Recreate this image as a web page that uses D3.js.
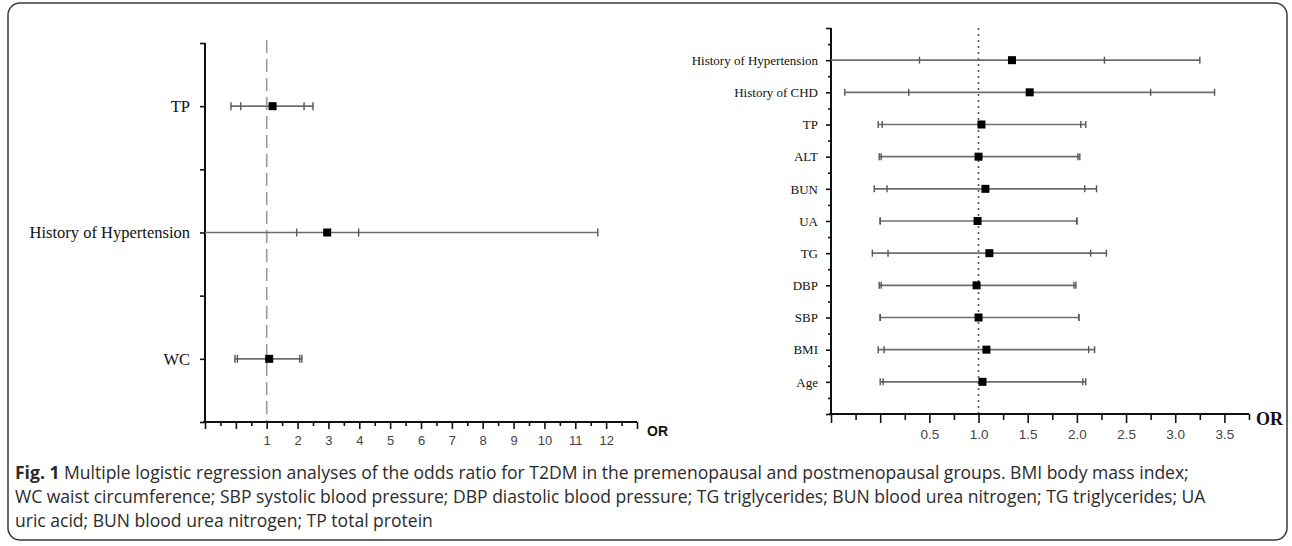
<!DOCTYPE html>
<html><head><meta charset="utf-8">
<script src="https://cdn.jsdelivr.net/npm/d3@7"></script>
<style>
html,body{margin:0;padding:0;background:#fff;}
svg{display:block;}
</style></head>
<body>
<svg id="c" width="1292" height="546"></svg>
<script>
// ---- Left panel (premenopausal) ----
const leftCategories = ["TP", "History of Hypertension", "WC"];
const leftPositions  = [1, 3, 5];
const leftOR         = [1.19, 2.96, 1.08];
const leftInnerLow   = [0.16, 1.97, 0.05];
const leftInnerHigh  = [2.21, 3.98, 2.07];
const leftOuterLow   = [-0.16, -1.5, -0.03];
const leftOuterHigh  = [2.50, 11.73, 2.14];
const leftTickLabels = [1,2,3,4,5,6,7,8,9,10,11,12];

// ---- Right panel (postmenopausal) ----
const rightCategories = ["History of Hypertension","History of CHD","TP","ALT","BUN","UA","TG","DBP","SBP","BMI","Age"];
const rightOR        = [1.34, 1.52, 1.03, 1.00, 1.07, 0.99, 1.11, 0.98, 1.00, 1.08, 1.04];
const rightInnerLow  = [0.40, 0.29, 0.02, 0.01, 0.07, 0.00, 0.08, 0.01, 0.00, 0.04, 0.03];
const rightInnerHigh = [2.28, 2.75, 2.04, 2.01, 2.08, 2.00, 2.14, 1.97, 2.02, 2.12, 2.06];
const rightOuterLow  = [-0.7, -0.36, -0.02, -0.01, -0.06, 0.00, -0.08, -0.01, 0.00, -0.02, 0.00];
const rightOuterHigh = [3.25, 3.40, 2.09, 2.03, 2.20, 2.00, 2.30, 1.99, 2.02, 2.18, 2.09];
const rightTickLabels = ["0.5","1.0","1.5","2.0","2.5","3.0","3.5"];

const captionLines = [
  {bold:"Fig. 1", rest:" Multiple logistic regression analyses of the odds ratio for T2DM in the premenopausal and postmenopausal groups. BMI body mass index;"},
  {bold:"", rest:"WC waist circumference; SBP systolic blood pressure; DBP diastolic blood pressure; TG triglycerides; BUN blood urea nitrogen; TG triglycerides; UA"},
  {bold:"", rest:"uric acid; BUN blood urea nitrogen; TP total protein"}
];
const captionLine1Width = 1175;

const svg = d3.select("#c");
const SERIF = "'Liberation Serif','Times New Roman',serif";
const SANS = "'Liberation Sans',Arial,sans-serif";

// frame
svg.append("rect").attr("x",8).attr("y",3).attr("width",1279).attr("height",537)
  .attr("rx",12).attr("fill","none").attr("stroke","#3a3a3a").attr("stroke-width",1.5);

function forest(cfg){
  const g = svg.append("g");
  const x = d3.scaleLinear().domain(cfg.xDomain).range(cfg.xRange);
  const y = d3.scaleLinear().domain(cfg.yDomain).range(cfg.yRange);
  const x0 = cfg.xRange[0], x1 = cfg.xRange[1];
  const yTop = cfg.yRange[0], yBot = cfg.yRange[1];

  g.append("line").attr("x1",x(1)).attr("x2",x(1)).attr("y1",cfg.refTop).attr("y2",yBot)
    .attr("stroke",cfg.refColor).attr("stroke-width",cfg.refWidth).attr("stroke-dasharray",cfg.refDash);

  const xa = d3.axisBottom(x).tickValues(cfg.xTicks).tickSize(cfg.xMajor).tickSizeOuter(0)
    .tickFormat(d => cfg.xLabel(d));
  const gx = g.append("g").attr("transform",`translate(0,${yBot})`).call(xa);
  gx.select(".domain").remove();
  gx.selectAll(".tick line").attr("stroke","#111").attr("stroke-width",1.6)
    .attr("y2", d => cfg.isMajorX(d) ? cfg.xMajor : cfg.xMinor);
  gx.selectAll(".tick text").attr("font-family",SANS).attr("font-size",cfg.xFont)
    .attr("fill","#444").attr("dy",null).attr("y",cfg.xLabelDy);

  const ya = d3.axisLeft(y).tickValues(cfg.yTicks).tickSize(cfg.yMajor).tickSizeOuter(0)
    .tickFormat(d => cfg.yLabel(d));
  const gy = g.append("g").attr("transform",`translate(${x0},0)`).call(ya);
  gy.select(".domain").remove();
  gy.selectAll(".tick line").attr("stroke","#111").attr("stroke-width",1.6)
    .attr("x2", d => Number.isInteger(d) ? -cfg.yMajor : -cfg.yMinor);
  gy.selectAll(".tick text").attr("font-family",SERIF).attr("font-size",cfg.yFont)
    .attr("fill","#111").attr("x",-cfg.yLabelGap).attr("dy","0.33em");

  g.append("line").attr("x1",x0).attr("x2",x0).attr("y1",yTop).attr("y2",yBot+1)
    .attr("stroke","#111").attr("stroke-width",2);
  g.append("line").attr("x1",x0-2).attr("x2",x1).attr("y1",yBot).attr("y2",yBot)
    .attr("stroke","#111").attr("stroke-width",2);
  g.append("text").attr("x",cfg.orX).attr("y",yBot+cfg.orDy).text("OR")
    .attr("font-family",cfg.orFamily).attr("font-weight","bold").attr("font-size",cfg.orSize).attr("fill","#111");

  const d = cfg.pos.map((p,i)=>({p, or:cfg.or[i], il:cfg.il[i], ih:cfg.ih[i], ol:cfg.ol[i], oh:cfg.oh[i]}));
  const cx = v => x(Math.max(cfg.xDomain[0], Math.min(cfg.xDomain[1], v)));
  const rows = g.selectAll(".row").data(d).enter().append("g");
  rows.append("line").attr("x1",r=>cx(r.ol)).attr("x2",r=>cx(r.oh))
    .attr("y1",r=>y(r.p)).attr("y2",r=>y(r.p)).attr("stroke","#6e6e6e").attr("stroke-width",1.6);
  const capH = cfg.capH;
  ["ol","il","ih","oh"].forEach(k=>{
    rows.filter(r=>r[k] > cfg.xDomain[0]).append("line")
      .attr("x1",r=>x(r[k])).attr("x2",r=>x(r[k]))
      .attr("y1",r=>y(r.p)-capH/2).attr("y2",r=>y(r.p)+capH/2)
      .attr("stroke","#555").attr("stroke-width",1.4);
  });
  rows.append("rect").attr("x",r=>x(r.or)-4).attr("y",r=>y(r.p)-4)
    .attr("width",8).attr("height",8).attr("fill","#000");
}

const leftLabelMap = {}; leftPositions.forEach((p,i)=>leftLabelMap[p]=leftCategories[i]);
forest({
  xDomain:[-1,13], xRange:[205,637], yDomain:[0,6], yRange:[43,422],
  xTicks:d3.range(-1,13.001,0.5), isMajorX:d=>Number.isInteger(d), xMajor:7, xMinor:4,
  xLabel:d=> leftTickLabels.includes(d) ? String(d) : "", xFont:"13px", xLabelDy:23,
  yTicks:d3.range(0,6.001,1), yMajor:5, yMinor:3, yLabel:d=>leftLabelMap[d]||"", yFont:"16.5px", yLabelGap:15,
  refTop:40, refColor:"#9a9a9a", refWidth:1.6, refDash:"13,6",
  orX:647, orDy:14, orFamily:SANS, orSize:"14px",
  pos:leftPositions, or:leftOR, il:leftInnerLow, ih:leftInnerHigh, ol:leftOuterLow, oh:leftOuterHigh, capH:8
});

const rightPositions = rightCategories.map((c,i)=>i+1);
const rightLabelMap = {}; rightPositions.forEach((p,i)=>rightLabelMap[p]=rightCategories[i]);
const rightLabelValues = [0.5,1,1.5,2,2.5,3,3.5];
forest({
  xDomain:[-0.5,3.75], xRange:[831,1249], yDomain:[0,12], yRange:[28,414],
  xTicks:d3.range(-0.5,3.7501,0.25), isMajorX:d=>Math.abs(d*2-Math.round(d*2))<1e-9, xMajor:9, xMinor:6,
  xLabel:d=>{const i=rightLabelValues.findIndex(v=>Math.abs(v-d)<1e-9); return i>=0?rightTickLabels[i]:"";}, xFont:"13.5px", xLabelDy:25,
  yTicks:d3.range(0,12.001,0.5), yMajor:5, yMinor:3, yLabel:d=>rightLabelMap[d]||"", yFont:"13px", yLabelGap:13,
  refTop:28, refColor:"#555", refWidth:1.6, refDash:"2,4",
  orX:1256, orDy:11, orFamily:SERIF, orSize:"18px",
  pos:rightPositions, or:rightOR, il:rightInnerLow, ih:rightInnerHigh, ol:rightOuterLow, oh:rightOuterHigh, capH:7
});

// caption: font size chosen so that line 1 fills its measured width
const cap = svg.append("g").attr("font-family","'Open Sans','Noto Sans',sans-serif").attr("font-size","15px").attr("fill","#2b2b2b");
const texts = captionLines.map((ln,i)=>{
  const t = cap.append("text").attr("x",15).attr("y",479+i*24);
  if (ln.bold) t.append("tspan").attr("font-weight","bold").text(ln.bold);
  t.append("tspan").text(ln.rest);
  return t;
});
const w1 = texts[0].node().getComputedTextLength();
const fs = Math.min(18, 15*captionLine1Width/w1);
cap.attr("font-size", fs.toFixed(2)+"px");
</script>
</body></html>
